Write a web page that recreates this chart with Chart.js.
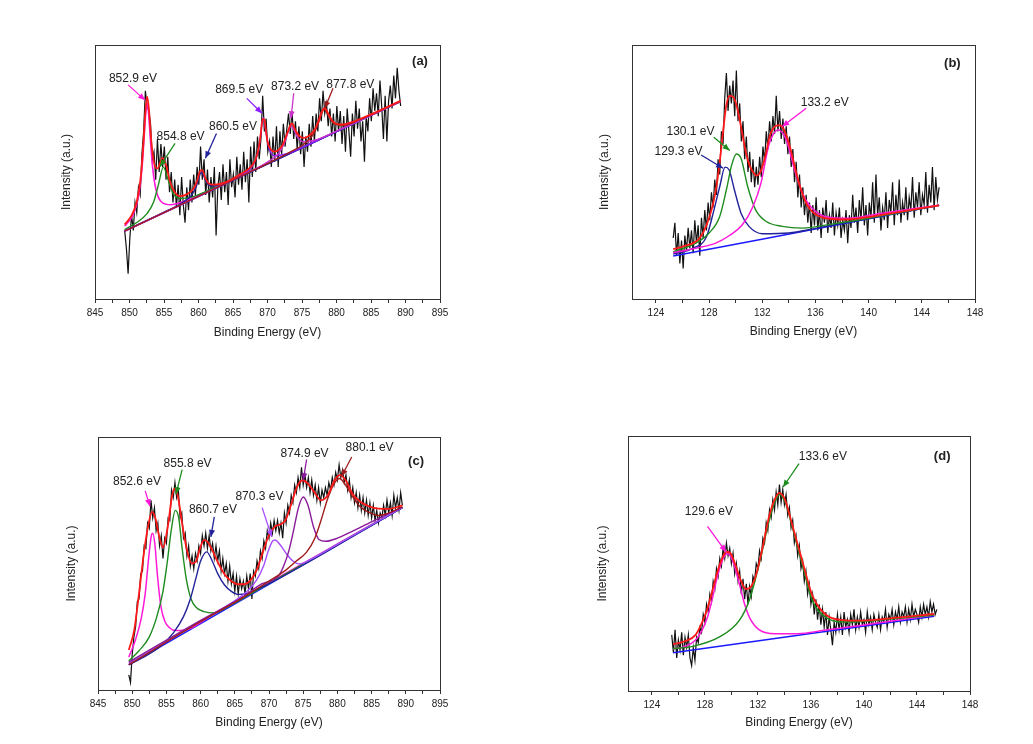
<!DOCTYPE html>
<html>
<head>
<meta charset="utf-8">
<script src="https://cdn.jsdelivr.net/npm/chart.js@4.4.1/dist/chart.umd.min.js"></script>
<style>
  body { margin: 0; background: #fff; width: 1033px; height: 744px; overflow: hidden; position: relative; }
  canvas { position: absolute; }
</style>
</head>
<body>
<canvas id="panelA" width="420" height="311" style="left:40px;top:30px"></canvas>
<canvas id="panelB" width="423" height="311" style="left:577px;top:30px"></canvas>
<canvas id="panelC" width="417" height="310" style="left:43px;top:422px"></canvas>
<canvas id="panelD" width="422" height="312" style="left:573px;top:421px"></canvas>
<script>
// ---- (a) Ni 2p, first sample ----
var aStart = 849.3, aStep = 0.25;
var aCounts = [27,20,10,24,33,27,38,34,44,41, 57,66,82,76,74,69,55,58,47,63,
  50,61,52,60,47,56,42,50,38,47, 36,45,33,48,37,30,44,35,47,38,
  49,41,52,45,60,47,55,41,51,38, 48,40,52,25,44,50,39,53,42,50,
  37,55,44,49,40,56,45,53,43,58, 46,55,38,60,48,62,50,64,55,63,
  80,66,71,58,62,52,64,54,68,52, 66,57,69,60,67,73,65,74,63,70,
  59,68,57,66,52,64,58,69,60,72, 62,73,66,79,70,82,73,77,68,75,
  64,73,62,76,66,74,61,72,58,75, 66,56,73,64,78,67,75,62,70,54,
  72,66,79,70,83,74,81,72,86,76, 63,80,62,78,84,75,88,79,91,82, 76];
var aBaseX = [849.3, 889.3], aBaseY = [26.7, 77.8];
var aP1X = [849.3,850.5,851.3,851.8,852.1,852.35,852.55,852.75,853.0,853.3,853.8,854.6,856,858,862,870,880,889.3];
var aP1Y = [28.7,33.1,40.3,51.3,62.9,73.1,76.9,73.6,64.0,53.2,43.5,38.3,37.1,38.6,43.2,53.3,66.0,77.8];
var aP2X = [849.3,851,852.5,853.5,854.2,854.9,855.6,856.3,857.3,859,862,870,889.3];
var aP2Y = [27.3,30.0,33.5,38.2,45.1,51.9,46.9,41.7,39.6,40.1,43.4,53.3,77.8];
var aP3X = [849.3,855,857.5,859,859.7,860.1,860.4,860.7,861.1,861.8,863.3,866,889.3];
var aP3Y = [26.8,34.2,37.7,40.9,44.5,48.1,49.9,48.9,46.3,44.5,45.1,48.2,77.8];
var aP4X = [849.3,862,866,867.8,868.6,869.0,869.4,869.8,870.2,871.0,872.8,877,889.3];
var aP4Y = [26.7,43.1,48.6,52.3,57.5,64.3,71.4,65.3,59.5,56.4,57.2,62.2,77.8];
var aP5X = [849.3,866,870,871.6,872.5,873.0,873.4,873.8,874.3,875.2,876.8,881,889.3];
var aP5Y = [26.7,48.3,53.9,57.3,61.6,65.8,68.1,66.8,63.9,61.9,62.5,67.4,77.8];
var aP6X = [849.3,868,873,875.5,876.8,877.5,878.2,878.9,879.6,880.9,883.4,889.3];
var aP6Y = [26.7,50.7,57.4,61.5,65.5,70.1,74.6,71.9,69.1,68.3,70.6,77.9];
var aFitX = [849.3,850.3,851.05,851.55,851.8,852.05,852.3,852.55,852.8,853.05,853.3,853.8,854.05,854.8,855.3,855.8,856.3,857.3,858.3,859.3,
  859.8,860.3,860.55,861.05,861.55,862.3,864.05,866.05,867.55,868.3,868.8,869.05,869.3,869.55,869.8,870.05,870.55,871.05,871.8,872.3,
  872.8,873.3,873.55,874.05,874.55,875.3,876.05,876.8,877.3,877.8,878.3,878.8,879.3,880.05,880.8,882.05,885.05,889.3];
var aFitY = [29.3,32.9,38.3,46.2,53.0,62.7,73.7,79.7,75.3,66.0,58.2,51.6,51.4,55.6,52.7,46.9,43.2,40.5,41.2,43.5,
  46.5,50.6,50.6,47.2,45.4,45.0,46.1,49.1,51.9,55.1,60.6,65.7,70.9,70.6,65.6,61.4,58.7,58.0,59.2,61.3,
  64.8,68.4,69.1,66.4,64.3,63.4,64.3,66.5,69.4,73.3,75.2,73.0,70.5,68.9,68.7,69.5,72.8,78.0];

// ---- (b) P 2p, first sample ----
var bStart = 125.3, bStep = 0.125;
var bCounts = [24,30,17,26,14,23,12,25,19,28, 20,27,18,31,22,29,17,32,24,35,
  27,38,31,42,36,47,41,55,49,66, 61,79,89,74,84,77,86,72,90,70,
  77,62,70,55,64,50,58,46,55,44, 52,45,56,48,60,54,66,59,70,62,
  72,65,80,66,74,63,71,61,68,57, 64,52,59,46,54,40,49,36,44,33,
  41,30,38,26,37,29,40,27,35,24, 36,30,39,26,33,28,38,25,34,29,
  36,24,31,27,35,22,33,28,41,30, 36,26,39,31,44,29,37,25,38,32,
  46,30,49,33,40,27,36,31,42,28, 39,34,46,29,41,33,47,30,38,33,
  44,31,40,35,48,32,42,36,46,33, 41,37,50,34,45,38,52,35,48,39, 44];
var bBaseX = [125.3, 145.3], bBaseY = [16.9, 36.9];
var bNavyX = [125.3,126.8,127.8,128.4,128.8,129.2,129.5,129.9,130.4,131.0,132,134,136,145.3];
var bNavyY = [17.7,20,24.5,35.8,44.3,51.9,50.9,43,33.8,28.6,25.7,26.0,27.8,36.9];
var bGreenX = [125.3,127,128,128.8,129.3,129.7,130.05,130.4,130.9,131.5,132.3,133.5,135,137,140,145.3];
var bGreenY = [18.6,22,26,32.5,43,52.8,57.1,55.4,44.3,35.1,30.5,28.6,27.9,29.3,31.8,36.9];
var bMagX = [125.3,127,128.5,129.5,130.5,131.3,131.9,132.5,133.2,133.8,134.5,135.2,136,137,138.5,141,145.3];
var bMagY = [18.2,20,22,24.9,29.2,36.4,45.6,60.7,66.6,62.6,49.5,39.7,34.5,32.2,31.8,33.8,36.9];
var bFitX = [125.3,125.8,126.3,126.8,127.3,127.8,128.3,128.55,128.8,129.05,129.3,129.55,129.8,130.05,130.3,130.55,130.8,131.05,131.3,131.55,
  131.8,132.05,132.3,132.55,132.8,133.05,133.3,133.55,133.8,134.05,134.3,134.55,134.8,135.05,135.3,135.55,135.8,136.05,136.55,137.3,
  138.3,139.5,141.8,145.3];
var bFitY = [19.6,20.3,21.1,22.0,24,29,37.5,44.3,54,66,76.4,80,79.6,76.5,70.5,63.5,57,52.5,50,48.6,
  49.5,52.8,58,64,67,68.3,68.4,67.4,64.5,60.5,55.3,49.8,45,41,37.7,35.6,34.2,33.2,32,31.5,
  31.3,31.9,33.8,36.9];

// ---- (c) Ni 2p, second sample ----
var cStart = 849.5, cStep = 0.25;
var cCounts = [6,3,14,21,25,35,36,46,47,57, 56,66,64,75,68,72,63,66,57,61,
  52,60,58,68,67,79,76,82,76,79, 68,70,60,62,53,57,49,53,48,54,
  51,57,54,61,57,62,56,61,55,58, 52,57,51,55,47,52,46,50,43,49,
  42,46,39,45,38,44,40,43,38,45, 40,46,36,47,45,51,48,55,52,59,
  56,63,60,66,62,67,63,67,62,66, 60,70,66,73,70,77,74,81,78,84,
  80,88,81,85,80,84,78,83,77,81, 75,80,74,79,76,80,77,82,79,84,
  81,86,83,89,84,87,82,85,79,83, 76,80,74,78,72,77,71,76,70,75,
  69,74,68,73,67,71,66,70,68,73, 69,75,70,74,69,77,72,76,71,78, 73];
var cBaseX = [849.5, 889.5], cBaseY = [9.9, 72.1];
var cMagX = [849.5,850.5,851.3,851.9,852.4,852.8,853.0,853.3,853.7,854.2,854.8,855.5,856.3,857.5,859,862,866,870,880,889.5];
var cMagY = [13,20,28,38,52,61,62,58,45,33,27,24.5,23.5,23.6,25,30.3,36.4,42.4,57.7,72.3];
var cGreenX = [849.5,851,852.5,853.6,854.5,855.1,855.7,856.3,856.8,857.3,857.9,858.6,859.4,860.5,862,864,867,875,889.5];
var cGreenY = [11.5,15.5,21,29,39,50,63,71,68,56,44,36,32.5,31,30.5,33,37.5,49.8,72.2];
var cNavyX = [849.5,852,854,856,857.5,858.5,859.3,860,860.9,861.7,862.5,863.5,864.5,865.5,866.5,868,870,889.5];
var cNavyY = [10,13.5,17,22.5,29,36,44,51,54.6,51,46,41.5,39,37.8,38,39.5,42,72.1];
var cPurpX = [849.5,858,864,866.8,868.2,869.2,869.9,870.5,870.9,871.6,872.5,873.5,874.5,876,880,889.5];
var cPurpY = [10.5,24,33.5,39,43.5,49,55,58.8,59.3,57.5,54,51,49.8,51.5,57.6,72.2];
var cViolX = [849.5,860,866,869,870.7,871.5,872.1,872.9,873.6,874.3,875.0,875.7,876.5,877.3,878.3,880,882,885,889.5];
var cViolY = [11,27.5,36.5,42,43.6,45.5,48.7,55,63.2,72,76.3,73,64.5,59.5,58.8,60,62.5,66.5,72.3];
var cBrownX = [849.5,860,866,870,872.5,874,875.5,876.7,877.6,878.5,879.4,880.3,881.2,882.2,883.3,884.6,886,887.6,889.5];
var cBrownY = [10,27,36.2,43,47.5,51,54.5,60,67,75,81,83.6,81,76.5,72.5,70.2,69.0,70.0,72.4];
var cFitX = [849.5,850.3,851.0,851.7,852.3,852.9,853.4,853.9,854.5,855.2,855.8,856.2,856.7,857.3,858.0,858.7,859.3,859.9,860.5,861.0,
  861.7,862.6,863.6,864.6,865.5,866.4,867.3,868.2,869.2,870.0,870.9,871.7,872.4,873.2,874.1,874.9,875.7,876.6,877.6,878.6,
  879.6,880.4,881.2,882.2,883.4,884.6,886.0,887.5,889.5];
var cFitY = [15.8,23.7,38.2,53.9,64.5,70.4,67.8,61.2,56.3,64.5,76.3,79.6,76.3,65.8,55.3,50,50.7,55.9,59.2,58.6,
  55.3,50,45.4,42.8,41.8,41.8,43.4,47.4,55.3,61.2,64.7,65.5,67.1,73,80.3,82.9,81.6,78.3,75,77,
  82.9,84.9,82.9,77.6,74.3,72.6,71.7,71.6,73.0];

// ---- (d) P 2p, second sample ----
var dStart = 125.5, dStep = 0.125;
var dCounts = [22,15,24,13,20,16,23,14,21,17, 22,13,10,17,12,21,19,25,23,30,
  27,34,31,38,35,43,40,48,45,52, 49,56,52,58,53,56,50,54,46,50,
  43,47,38,44,36,42,34,41,37,45, 43,50,48,55,52,60,58,66,63,71,
  68,75,71,78,73,81,74,79,73,77, 69,72,64,67,58,61,53,57,48,51,
  43,47,38,42,34,38,30,36,28,34, 26,32,25,31,22,29,24,18,27,23,
  30,24,29,22,31,25,28,23,30,26, 32,24,29,25,31,26,28,23,31,26,
  29,24,30,27,25,30,24,29,27,32, 25,30,28,32,26,31,28,33,27,31,
  29,33,27,32,28,34,29,32,30,27, 33,29,34,30,33,29,35,31,34,30, 32];
var dBaseX = [125.6, 145.3], dBaseY = [15.0, 29.3];
var dMagX = [125.6,126.5,127.3,127.8,128.2,128.6,128.9,129.3,129.7,130.1,130.6,131.0,131.4,132.1,133.3,135,137,140,145.3];
var dMagY = [16.5,17.5,20,24,29,37,44,51,53.9,51,42,34,28.5,24,22.5,22.5,23.8,25.9,29.8];
var dGreenX = [125.6,127.1,129.1,130.6,131.35,132.1,132.85,133.3,133.65,134.1,134.6,135.4,136.1,137.1,138.4,139.6,142,145.3];
var dGreenY = [16.6,17.5,21.2,27.7,35.6,49.9,66.9,74.5,77.1,73.5,64.3,48.6,35.6,29,27.1,27.2,28.2,29.8];
var dFitX = [125.6,126.5,127.3,127.8,128.2,128.6,128.9,129.3,129.6,129.9,130.3,130.7,131.1,131.4,131.8,132.3,132.85,133.3,133.6,134.0,
  134.6,135.4,136.1,137.1,138.4,139.6,142,145.3];
var dFitY = [18.3,19.5,22,27,32.5,40,46,52,54.6,54.2,49.5,43.5,40.0,40.5,44.5,55,68.5,75.5,77.6,75.5,
  65,50,37.5,30,27.8,27.6,28.5,30.2];

var niTicks = [845, 850, 855, 860, 865, 870, 875, 880, 885, 890, 895];
var niMinor = [847.5, 852.5, 857.5, 862.5, 867.5, 872.5, 877.5, 882.5, 887.5, 892.5];
var pTicks = [124, 128, 132, 136, 140, 144, 148];
var pMinor = [126, 130, 134, 138, 142, 146];

var FONT = '"Liberation Sans", Arial, sans-serif';
var RED = '#ff1a1a', MAG = '#ff1ad9', GREEN = '#1e8c1e', NAVY = '#22229a',
    VIOLET = '#8c1aff', PINK = '#cc33cc', DRED = '#a01c1c', BLUE = '#1a1aff',
    PURPLE = '#a64dff', PLUM = '#8a1a9a';

function pts(xs, ys) {
  return xs.map(function (x, i) { return {x: x, y: ys[i]}; });
}
function scan(start, step, vals) {
  return vals.map(function (v, i) { return {x: +(start + i * step).toFixed(3), y: v}; });
}
function fitLine(data, color, width, order) {
  return {data: data, borderColor: color, borderWidth: width, pointRadius: 0, fill: false,
    cubicInterpolationMode: 'monotone', order: order};
}
function rawLine(data, order) {
  return {data: data, borderColor: '#111', borderWidth: 1.2, pointRadius: 0, fill: false, tension: 0, order: order};
}

var framePlugin = {
  id: 'frame',
  afterDatasetsDraw: function (chart) {
    var a = chart.chartArea, c = chart.ctx;
    c.save();
    c.strokeStyle = '#333';
    c.lineWidth = 1;
    c.strokeRect(Math.round(a.left) + 0.5, Math.round(a.top) + 0.5,
      Math.round(a.right - a.left), Math.round(a.bottom - a.top));
    c.restore();
  }
};

function notesPlugin(notes, tag) {
  return {
    id: 'notes',
    afterDatasetsDraw: function (chart) {
      var xs = chart.scales.x, ys = chart.scales.y, c = chart.ctx;
      c.save();
      notes.forEach(function (n) {
        var x1 = xs.getPixelForValue(n.from[0]), y1 = ys.getPixelForValue(n.from[1]);
        var x2 = xs.getPixelForValue(n.to[0]), y2 = ys.getPixelForValue(n.to[1]);
        c.strokeStyle = n.color;
        c.fillStyle = n.color;
        c.lineWidth = 1.3;
        c.beginPath(); c.moveTo(x1, y1); c.lineTo(x2, y2); c.stroke();
        var ang = Math.atan2(y2 - y1, x2 - x1), L = 7, W = 3;
        c.beginPath();
        c.moveTo(x2, y2);
        c.lineTo(x2 - L * Math.cos(ang) + W * Math.sin(ang), y2 - L * Math.sin(ang) - W * Math.cos(ang));
        c.lineTo(x2 - L * Math.cos(ang) - W * Math.sin(ang), y2 - L * Math.sin(ang) + W * Math.cos(ang));
        c.closePath(); c.fill();
        c.fillStyle = '#222';
        c.font = '12px ' + FONT;
        c.textAlign = 'center';
        c.textBaseline = 'middle';
        c.fillText(n.text, xs.getPixelForValue(n.at[0]), ys.getPixelForValue(n.at[1]));
      });
      c.fillStyle = '#222';
      c.font = 'bold 13px ' + FONT;
      c.textAlign = 'center';
      c.textBaseline = 'middle';
      c.fillText(tag.text, xs.getPixelForValue(tag.at[0]), ys.getPixelForValue(tag.at[1]));
      c.restore();
    }
  };
}

function panel(id, p) {
  var allTicks = p.major.concat(p.minor).filter(function (v) { return v >= p.min && v <= p.max; })
    .sort(function (u, v) { return u - v; });
  return new Chart(document.getElementById(id), {
    type: 'line',
    data: {datasets: p.datasets},
    options: {
      responsive: false,
      animation: false,
      events: [],
      layout: {padding: {top: 15, right: p.padRight, bottom: 0, left: 0}},
      plugins: {legend: {display: false}, tooltip: {enabled: false}},
      scales: {
        x: {
          type: 'linear', min: p.min, max: p.max,
          afterBuildTicks: function (axis) {
            axis.ticks = allTicks.map(function (v) { return {value: v}; });
          },
          afterFit: function (s) { s.height = 42; },
          ticks: {
            autoSkip: false, maxRotation: 0, padding: 4, color: '#222',
            font: {family: FONT, size: 10},
            callback: function (v) { return p.major.indexOf(v) >= 0 ? String(v) : ''; }
          },
          grid: {display: true, drawOnChartArea: false, drawTicks: true, tickLength: 4, color: '#333'},
          border: {display: false},
          title: {display: true, text: 'Binding Energy (eV)', color: '#222',
            font: {family: FONT, size: 12}, padding: {top: 0, bottom: p.xTitlePad}}
        },
        y: {
          min: 0, max: 100,
          afterFit: function (s) { s.width = 55; },
          ticks: {display: false},
          grid: {display: false},
          border: {display: false},
          title: {display: true, text: 'Intensity (a.u.)', color: '#222',
            font: {family: FONT, size: 12}, padding: {top: p.yTitlePad, bottom: 0}}
        }
      }
    },
    plugins: [framePlugin, notesPlugin(p.notes, p.tag)]
  });
}

panel('panelA', {
  min: 845, max: 895, major: niTicks, minor: niMinor, padRight: 20, xTitlePad: 0.8, yTitlePad: 19.8,
  datasets: [
    fitLine(pts(aFitX, aFitY), RED, 1.8, 0),
    fitLine(pts(aP6X, aP6Y), DRED, 1.4, 1),
    fitLine(pts(aP5X, aP5Y), PINK, 1.4, 2),
    fitLine(pts(aP4X, aP4Y), VIOLET, 1.4, 3),
    fitLine(pts(aP3X, aP3Y), NAVY, 1.4, 4),
    fitLine(pts(aP2X, aP2Y), GREEN, 1.4, 5),
    fitLine(pts(aP1X, aP1Y), MAG, 1.6, 6),
    fitLine(pts(aBaseX, aBaseY), BLUE, 1.4, 7),
    rawLine(scan(aStart, aStep, aCounts), 8)
  ],
  notes: [
    {text: '852.9 eV', at: [850.5, 86.9], from: [849.8, 84.3], to: [852.25, 78.3], color: MAG},
    {text: '854.8 eV', at: [857.4, 63.9], from: [856.6, 61.3], to: [854.4, 52.1], color: GREEN},
    {text: '860.5 eV', at: [865.0, 67.8], from: [862.6, 65.2], to: [861.0, 55.4], color: NAVY},
    {text: '869.5 eV', at: [865.9, 82.3], from: [867.0, 79.0], to: [869.2, 73.1], color: VIOLET},
    {text: '873.2 eV', at: [874.0, 83.6], from: [873.8, 81.0], to: [873.4, 71.1], color: PINK},
    {text: '877.8 eV', at: [882.0, 84.3], from: [879.5, 83.0], to: [878.3, 75.1], color: DRED}
  ],
  tag: {text: '(a)', at: [892.1, 93.7]}
});

panel('panelB', {
  min: 122.2, max: 148, major: pTicks, minor: pMinor, padRight: 25, xTitlePad: 1.8, yTitlePad: 20.8,
  datasets: [
    fitLine(pts(bFitX, bFitY), RED, 1.8, 0),
    fitLine(pts(bMagX, bMagY), MAG, 1.5, 1),
    fitLine(pts(bGreenX, bGreenY), GREEN, 1.4, 2),
    fitLine(pts(bNavyX, bNavyY), NAVY, 1.4, 3),
    fitLine(pts(bBaseX, bBaseY), BLUE, 1.5, 4),
    rawLine(scan(bStart, bStep, bCounts), 5)
  ],
  notes: [
    {text: '133.2 eV', at: [136.7, 77.1], from: [135.3, 75.1], to: [133.5, 67.9], color: MAG},
    {text: '130.1 eV', at: [126.6, 65.9], from: [128.35, 63.7], to: [129.55, 58.5], color: GREEN},
    {text: '129.3 eV', at: [125.7, 58.1], from: [127.4, 56.7], to: [129.05, 51.5], color: NAVY}
  ],
  tag: {text: '(b)', at: [146.3, 92.8]}
});

panel('panelC', {
  min: 845, max: 895, major: niTicks, minor: niMinor, padRight: 20, xTitlePad: 1.8, yTitlePad: 21.8,
  datasets: [
    fitLine(pts(cFitX, cFitY), RED, 1.8, 0),
    fitLine(pts(cBrownX, cBrownY), DRED, 1.4, 1),
    fitLine(pts(cViolX, cViolY), PLUM, 1.4, 2),
    fitLine(pts(cPurpX, cPurpY), PURPLE, 1.4, 3),
    fitLine(pts(cNavyX, cNavyY), NAVY, 1.4, 4),
    fitLine(pts(cGreenX, cGreenY), GREEN, 1.4, 5),
    fitLine(pts(cMagX, cMagY), MAG, 1.5, 6),
    fitLine(pts(cBaseX, cBaseY), BLUE, 1.5, 7),
    rawLine(scan(cStart, cStep, cCounts), 8)
  ],
  notes: [
    {text: '852.6 eV', at: [850.7, 82.2], from: [851.9, 78.7], to: [852.6, 72.6], color: MAG},
    {text: '855.8 eV', at: [858.1, 89.5], from: [857.3, 87.1], to: [856.4, 77.4], color: GREEN},
    {text: '860.7 eV', at: [861.8, 71.3], from: [862.0, 68.4], to: [861.5, 60.5], color: NAVY},
    {text: '870.3 eV', at: [868.6, 76.3], from: [869.0, 72.1], to: [870.4, 60.5], color: PURPLE},
    {text: '874.9 eV', at: [875.2, 93.4], from: [875.5, 91.1], to: [875.0, 82.9], color: PLUM},
    {text: '880.1 eV', at: [884.7, 95.8], from: [882.1, 92.1], to: [880.6, 84.5], color: DRED}
  ],
  tag: {text: '(c)', at: [891.5, 90.5]}
});

panel('panelD', {
  min: 122.2, max: 148, major: pTicks, minor: pMinor, padRight: 25, xTitlePad: 2.8, yTitlePad: 22.8,
  datasets: [
    fitLine(pts(dFitX, dFitY), RED, 1.8, 0),
    fitLine(pts(dGreenX, dGreenY), GREEN, 1.5, 1),
    fitLine(pts(dMagX, dMagY), MAG, 1.5, 2),
    fitLine(pts(dBaseX, dBaseY), BLUE, 1.5, 3),
    rawLine(scan(dStart, dStep, dCounts), 4)
  ],
  notes: [
    {text: '133.6 eV', at: [136.9, 91.8], from: [135.1, 89.2], to: [133.9, 80.0], color: GREEN},
    {text: '129.6 eV', at: [128.3, 70.2], from: [128.2, 64.6], to: [129.6, 54.5], color: MAG}
  ],
  tag: {text: '(d)', at: [145.9, 91.8]}
});
</script>
</body>
</html>
